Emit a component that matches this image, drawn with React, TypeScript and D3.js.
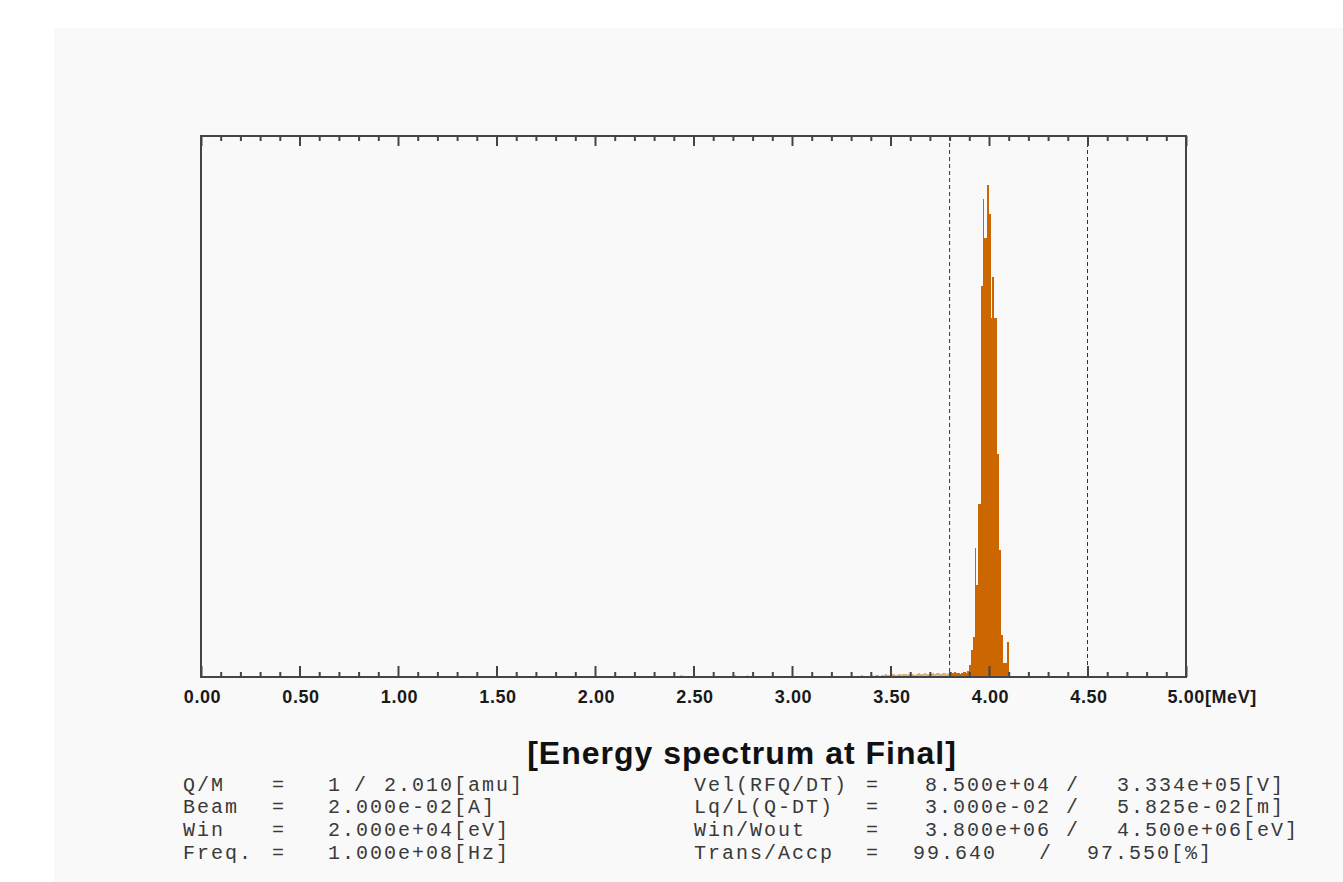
import React, { useEffect, useRef } from 'react';
import * as d3 from 'd3';

// histogram around the main peak, bins of 0.005 MeV starting at 3.90 MeV
const peakStart = 3.9;
const peakBin = 0.005;
const peakCounts = [
  12, 12, 27, 27, 40, 40, 129, 92, 92, 173,
  173, 173, 391, 391, 478, 439, 439, 439, 492, 492,
  463, 463, 359, 400, 400, 359, 359, 359, 223, 223,
  127, 127, 42, 42, 14, 14, 14, 14, 35, 35,
];

// low energy tail, bins of 0.01 MeV starting at 3.30 MeV
const tailStart = 3.3;
const tailBin = 0.01;
const tailCounts = [
  1, 0, 1, 1, 0, 2, 1, 1, 0, 1,
  2, 1, 2, 2, 1, 2, 2, 3, 2, 2,
  2, 3, 2, 2, 3, 2, 3, 3, 2, 3,
  3, 3, 2, 3, 4, 3, 3, 4, 3, 3,
  3, 4, 3, 4, 4, 3, 4, 4, 3, 4,
  5, 4, 5, 4, 4, 3, 4, 5, 4, 6,
];

// scattered particles further down
const strayEnergies = [2.3, 2.31, 2.41, 2.43, 2.44, 2.45, 2.64, 2.71, 2.72, 2.75, 2.77];
const strayCounts = [1, 1, 1, 2, 2, 1, 1, 2, 1, 1, 2];

const windowEdges = [3.8, 4.5];
const majorTicks = [0, 0.5, 1, 1.5, 2, 2.5, 3, 3.5, 4, 4.5, 5];

const leftLabels = ['Q/M', 'Beam', 'Win', 'Freq.'];
const leftValues = ['', '2.000e-02[A]', '2.000e+04[eV]', '1.000e+08[Hz]'];
const rightLabels = ['Vel(RFQ/DT)', 'Lq/L(Q-DT)', 'Win/Wout', 'Trans/Accp'];
const rightFirst = ['8.500e+04', '3.000e-02', '3.800e+06', '99.640'];
const rightSecond = ['3.334e+05[V]', '5.825e-02[m]', '4.500e+06[eV]', '97.550[%]'];

const width = 1343;
const height = 882;
const margin = { top: 136, right: 157, bottom: 205, left: 201 };

const App = () => {
  const ref = useRef<SVGSVGElement>(null);

  useEffect(() => {
    const svg = d3.select(ref.current);
    svg.selectAll('*').remove();

    // panel background
    svg.append('rect')
      .attr('x', 54).attr('y', 28)
      .attr('width', width - 54).attr('height', height - 28)
      .attr('fill', '#f9f9f9');

    const x = d3.scaleLinear().domain([0, 5]).range([margin.left, width - margin.right]);
    const bottom = height - margin.bottom;
    const maxCount = d3.max(peakCounts) as number;
    const y = d3.scaleLinear().domain([0, maxCount * 1.1]).range([bottom, margin.top]);

    const bins: { e0: number; w: number; c: number }[] = [];
    tailCounts.forEach((c, i) => bins.push({ e0: tailStart + i * tailBin, w: tailBin, c }));
    peakCounts.forEach((c, i) => bins.push({ e0: peakStart + i * peakBin, w: peakBin, c }));
    strayEnergies.forEach((e, i) => bins.push({ e0: e, w: peakBin, c: strayCounts[i] }));

    const inWindow = (e: number) => e >= windowEdges[0] - 1e-9 && e < windowEdges[1];

    svg.append('g')
      .attr('shape-rendering', 'crispEdges')
      .selectAll('rect')
      .data(bins.filter(d => d.c > 0))
      .enter()
      .append('rect')
      .attr('x', d => x(d.e0))
      .attr('width', d => x(d.e0 + d.w) - x(d.e0) + 0.3)
      .attr('y', d => y(d.c))
      .attr('height', d => y(0) - y(d.c))
      .attr('fill', d => (inWindow(d.e0) ? '#cc6600' : '#d6b27c'));

    // window lines
    svg.append('g')
      .selectAll('line')
      .data(windowEdges)
      .enter()
      .append('line')
      .attr('x1', d => x(d)).attr('x2', d => x(d))
      .attr('y1', margin.top).attr('y2', bottom)
      .attr('stroke', '#333')
      .attr('stroke-width', 1)
      .attr('stroke-dasharray', '4,3');

    // ticks
    const minorTicks = d3.range(1, 50).map(i => i / 10).filter(v => Math.abs(v * 2 - Math.round(v * 2)) > 1e-6);
    const tickStyle = (g: any) => {
      g.select('.domain').remove();
      g.selectAll('line').attr('stroke', '#444').attr('stroke-width', 2);
      g.selectAll('text').remove();
    };
    svg.append('g').attr('transform', `translate(0,${bottom})`)
      .call(d3.axisBottom(x).tickValues(majorTicks).tickSize(-11)).call(tickStyle);
    svg.append('g').attr('transform', `translate(0,${bottom})`)
      .call(d3.axisBottom(x).tickValues(minorTicks).tickSize(-5)).call(tickStyle);
    svg.append('g').attr('transform', `translate(0,${margin.top})`)
      .call(d3.axisTop(x).tickValues(majorTicks).tickSize(-10)).call(tickStyle);
    svg.append('g').attr('transform', `translate(0,${margin.top})`)
      .call(d3.axisTop(x).tickValues(minorTicks).tickSize(-5)).call(tickStyle);

    // frame
    svg.append('rect')
      .attr('x', margin.left).attr('y', margin.top)
      .attr('width', x(5) - x(0)).attr('height', bottom - margin.top)
      .attr('fill', 'none')
      .attr('stroke', '#444')
      .attr('stroke-width', 2);

    // tick labels
    svg.append('g')
      .selectAll('text')
      .data(majorTicks)
      .enter()
      .append('text')
      .attr('x', d => (d === 5 ? x(d) - 18.5 : x(d) + 1.5))
      .attr('y', 703)
      .attr('text-anchor', d => (d === 5 ? 'start' : 'middle'))
      .attr('font-family', '"Liberation Sans", Arial, sans-serif')
      .attr('font-weight', 'bold')
      .attr('font-size', 18)
      .attr('letter-spacing', 0.6)
      .attr('fill', '#1a1a1a')
      .text(d => d3.format('.2f')(d) + (d === 5 ? '[MeV]' : ''));

    // title
    svg.append('text')
      .attr('x', 742).attr('y', 764)
      .attr('text-anchor', 'middle')
      .attr('font-family', '"Liberation Sans", Arial, sans-serif')
      .attr('font-weight', 'bold')
      .attr('font-size', 32)
      .attr('letter-spacing', 1)
      .attr('fill', '#111')
      .text('[Energy spectrum at Final]');

    // parameter block
    const info = svg.append('g')
      .attr('font-family', '"Liberation Mono", "DejaVu Sans Mono", monospace')
      .attr('font-size', 20)
      .attr('letter-spacing', 2)
      .attr('fill', '#3a3a3a')
      .style('white-space', 'pre');
    const rowY = (i: number) => 790.5 + i * 22.7;
    const put = (txt: string, tx: number, ty: number, anchor = 'start') =>
      info.append('text').attr('x', tx).attr('y', ty).attr('text-anchor', anchor).text(txt);

    leftLabels.forEach((l, i) => {
      put(l, 183, rowY(i));
      put('=', 279, rowY(i), 'middle');
      if (leftValues[i]) put(leftValues[i], 328, rowY(i));
    });
    put('1', 328, rowY(0));
    put('/', 361, rowY(0), 'middle');
    put('2.010[amu]', 384, rowY(0));

    rightLabels.forEach((l, i) => {
      const last = i === 3;
      put(l, 694, rowY(i));
      put('=', 873, rowY(i), 'middle');
      put(rightFirst[i], last ? 913 : 925, rowY(i));
      put('/', last ? 1046 : 1073, rowY(i), 'middle');
      put(rightSecond[i], last ? 1087 : 1117, rowY(i));
    });
  }, []);

  return (
    <svg ref={ref} width={width} height={height}
      style={{ position: 'absolute', left: 0, top: 0, background: '#fff' }} />
  );
};

export default App;
